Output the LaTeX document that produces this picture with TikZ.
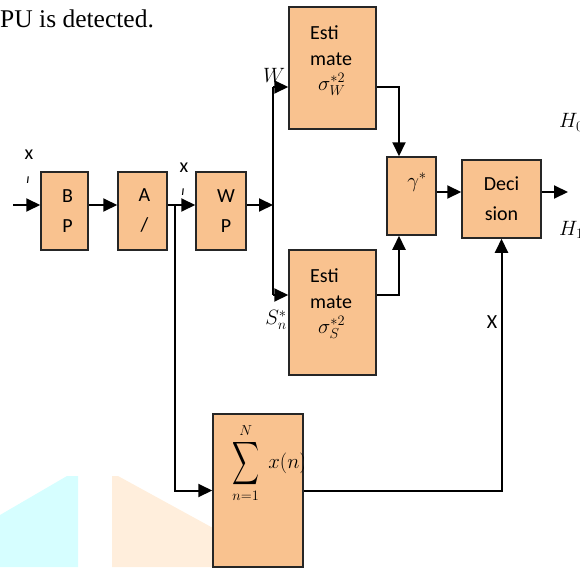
\documentclass[tikz,border=0pt]{standalone}
\usepackage{exscale}
\usepackage{graphicx}
\usepackage{fontspec}
\setmainfont{Carlito}
\newfontfamily\serifx{Liberation Serif}
\usetikzlibrary{arrows.meta}
\definecolor{boxfill}{HTML}{F9C28F}
\definecolor{wmcyan}{HTML}{D6FEFF}
\definecolor{wmorange}{HTML}{FFEEDC}
\begin{document}
\begin{tikzpicture}[x=1pt,y=-1pt,
  every node/.style={font=\fontsize{20}{26}\selectfont},
  blk/.style={draw=black!85,line width=1.5pt,fill=boxfill,inner sep=0pt,anchor=center},
  arr/.style={line width=2pt,-{Triangle[length=14pt,width=13pt]}},
  ln/.style={line width=2pt},
  lbl/.style={inner sep=0pt}]
\useasboundingbox (0,0) rectangle (580,567);
% background marks
\fill[wmcyan] (0,515) -- (67,476) -- (78,476) -- (78,567) -- (0,567) -- cycle;
\fill[wmorange] (112,476) -- (118,476) -- (213,528) -- (213,567) -- (112,567) -- cycle;
% header text
\node[lbl,anchor=base west,font=\serifx\fontsize{25.5}{28}\selectfont] (hdr) at (0,28) {PU is detected.};
% boxes
\node[blk,minimum width=47pt,minimum height=78pt,align=center,font=\fontsize{20}{30}\selectfont] (bp) at (64.5,211) {\hspace*{6pt}B\\\hspace*{6pt}P};
\node[blk,minimum width=49pt,minimum height=78pt,align=center,font=\fontsize{20}{30}\selectfont] (ad) at (142.5,211) {\hspace*{4pt}A\\\hspace*{4pt}/};
\node[blk,minimum width=50pt,minimum height=78pt,align=center,font=\fontsize{20}{30}\selectfont] (wp) at (221,211) {\hspace*{10pt}W\\\hspace*{10pt}P};
\node[blk,minimum width=87pt,minimum height=122pt] (estw) at (332.5,68) {};
\node[blk,minimum width=87pt,minimum height=125pt] (ests) at (332.5,312.5) {};
\node[blk,minimum width=49pt,minimum height=78pt] (gam) at (411.5,196) {};
\node[blk,minimum width=79pt,minimum height=78pt,align=center,font=\fontsize{20}{30}\selectfont] (dec) at (501.5,199) {Deci\\sion};
\node[blk,minimum width=90pt,minimum height=153pt] (sum) at (258,490.5) {};
% box texts
\node[lbl,anchor=north west,align=left] (tw) at (310,25) {Esti\\mate\\[-1pt]\hspace*{8pt}$\sigma_W^{*2}$};
\node[lbl,anchor=north west,align=left] (ts) at (310,268) {Esti\\mate\\[-1pt]\hspace*{8pt}$\sigma_S^{*2}$};
\node[lbl] (tg) at (417,182) {$\gamma^*$};
\begin{scope}
\clip (sum.north west) rectangle (sum.south east);
\node[lbl,anchor=west,font=\fontsize{21}{26}\selectfont] (ts2) at (232,463) {$\displaystyle\mathop{\vcenter{\hbox{\scalebox{0.9}[1.45]{$\displaystyle\sum$}}}}\limits_{n=1}^{N}\; x(n)$};
\end{scope}
% labels
\node[lbl] (x1) at (29,155) {x};
\node[lbl,font=\itshape\fontsize{14}{16}\selectfont] (i1) at (28,180) {ı};
\node[lbl] (x2) at (184,168) {x};
\node[lbl,font=\itshape\fontsize{14}{16}\selectfont] (i2) at (183,192) {ı};
\node[lbl,anchor=base west] (wl) at (263,83) {$W_{\!,}$};
\node[lbl] (sl) at (276,320) {$S_n^*$};
\node[lbl] (xl) at (492,322) {X};
\node[lbl,anchor=base west] (h0) at (559,128) {$H_0$};
\node[lbl,anchor=base west] (h1) at (559,235) {$H_1$};
% coordinates
\coordinate (in) at (13,205);
\coordinate (row) at (0,205);
\coordinate (br) at (175,205);
\coordinate (sp) at (273,205);
\coordinate (wtop) at (273,87);
\coordinate (sbot) at (273,295);
\coordinate (gx) at (399,0);
\coordinate (drow) at (0,192);
\coordinate (out) at (568,192);
% connectors
\draw[arr] (in) -- (in -| bp.west);
\draw[arr] (bp.east |- row) -- (ad.west |- row);
\draw[arr] (ad.east |- row) -- (wp.west |- row);
\draw[arr] (br) |- (sum.west);
\draw[arr] (wp.east |- row) -- (sp);
\draw[ln] (wtop) -- (sbot);
\draw[arr] (wtop) -- (wtop -| estw.west);
\draw[arr] (sbot) -- (sbot -| ests.west);
\draw[arr] (estw.east |- wtop) -| (gam.north -| gx);
\draw[arr] (ests.east |- sbot) -| (gam.south -| gx);
\draw[arr] (gam.east |- drow) -- (dec.west |- drow);
\draw[arr] (dec.east |- drow) -- (out);
\draw[arr] (sum.east) -| (dec.south);
\end{tikzpicture}
\end{document}
